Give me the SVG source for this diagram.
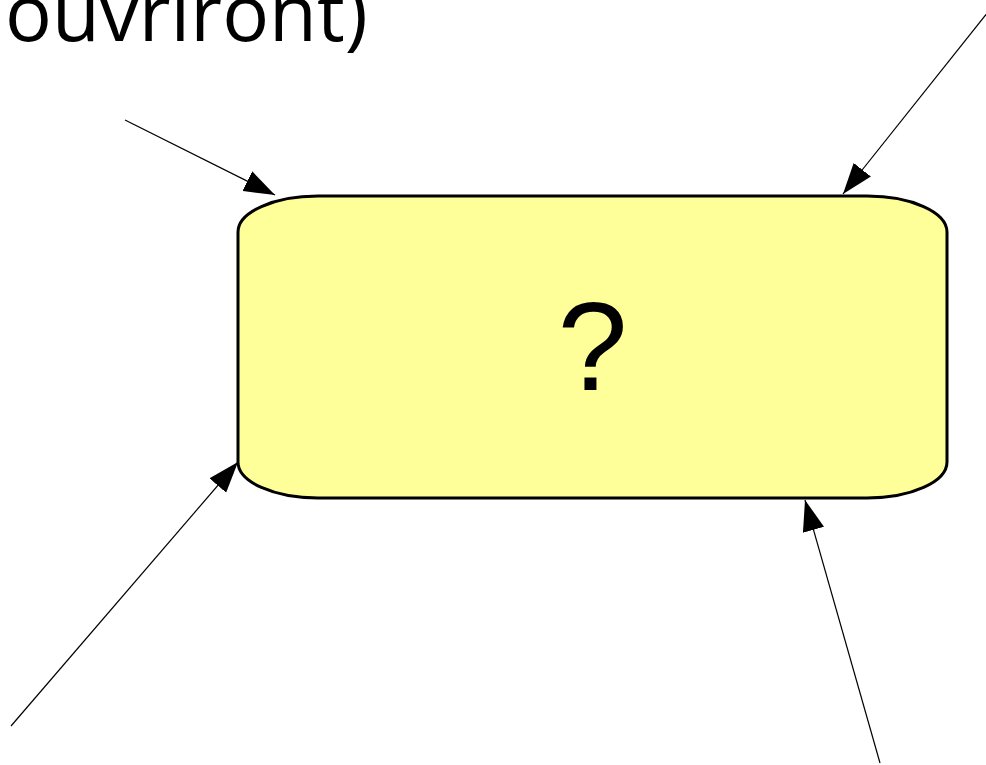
<svg xmlns="http://www.w3.org/2000/svg" width="986" height="765" viewBox="0 0 986 765">
  <style>
    .caption { font-family: "Open Sans", "Noto Sans", sans-serif; font-size: 78px; fill: #000; }
    .box { fill: #ffff99; stroke: #000; stroke-width: 3; }
    .label { font-family: "Liberation Sans", Arial, sans-serif; font-size: 126px; fill: #000; text-anchor: middle; }
    .edge { stroke: #000; stroke-width: 1.2; fill: none; marker-end: url(#head); }
  </style>
  <defs>
    <marker id="head" markerUnits="userSpaceOnUse" markerWidth="32" markerHeight="22" refX="31" refY="11" orient="auto">
      <path d="M0,0 L31,11 L0,22 Z" fill="#000"/>
    </marker>
  </defs>

  <rect width="986" height="765" fill="#fff"/>

  <!-- trailing caption line -->
  <text class="caption" x="5" y="41">ouvriront)</text>

  <!-- central rounded box -->
  <g id="node-unknown">
    <rect class="box" x="238" y="196" width="709" height="302" rx="80" ry="36"/>
    <text class="label" x="592.5" y="390">?</text>
  </g>

  <!-- incoming connectors -->
  <g id="connectors">
    <line class="edge" x1="125" y1="120" x2="275" y2="195"/>
    <line class="edge" x1="988" y1="12" x2="843" y2="194"/>
    <line class="edge" x1="11" y1="726" x2="238" y2="462"/>
    <line class="edge" x1="880" y1="763" x2="805" y2="500"/>
  </g>
</svg>
